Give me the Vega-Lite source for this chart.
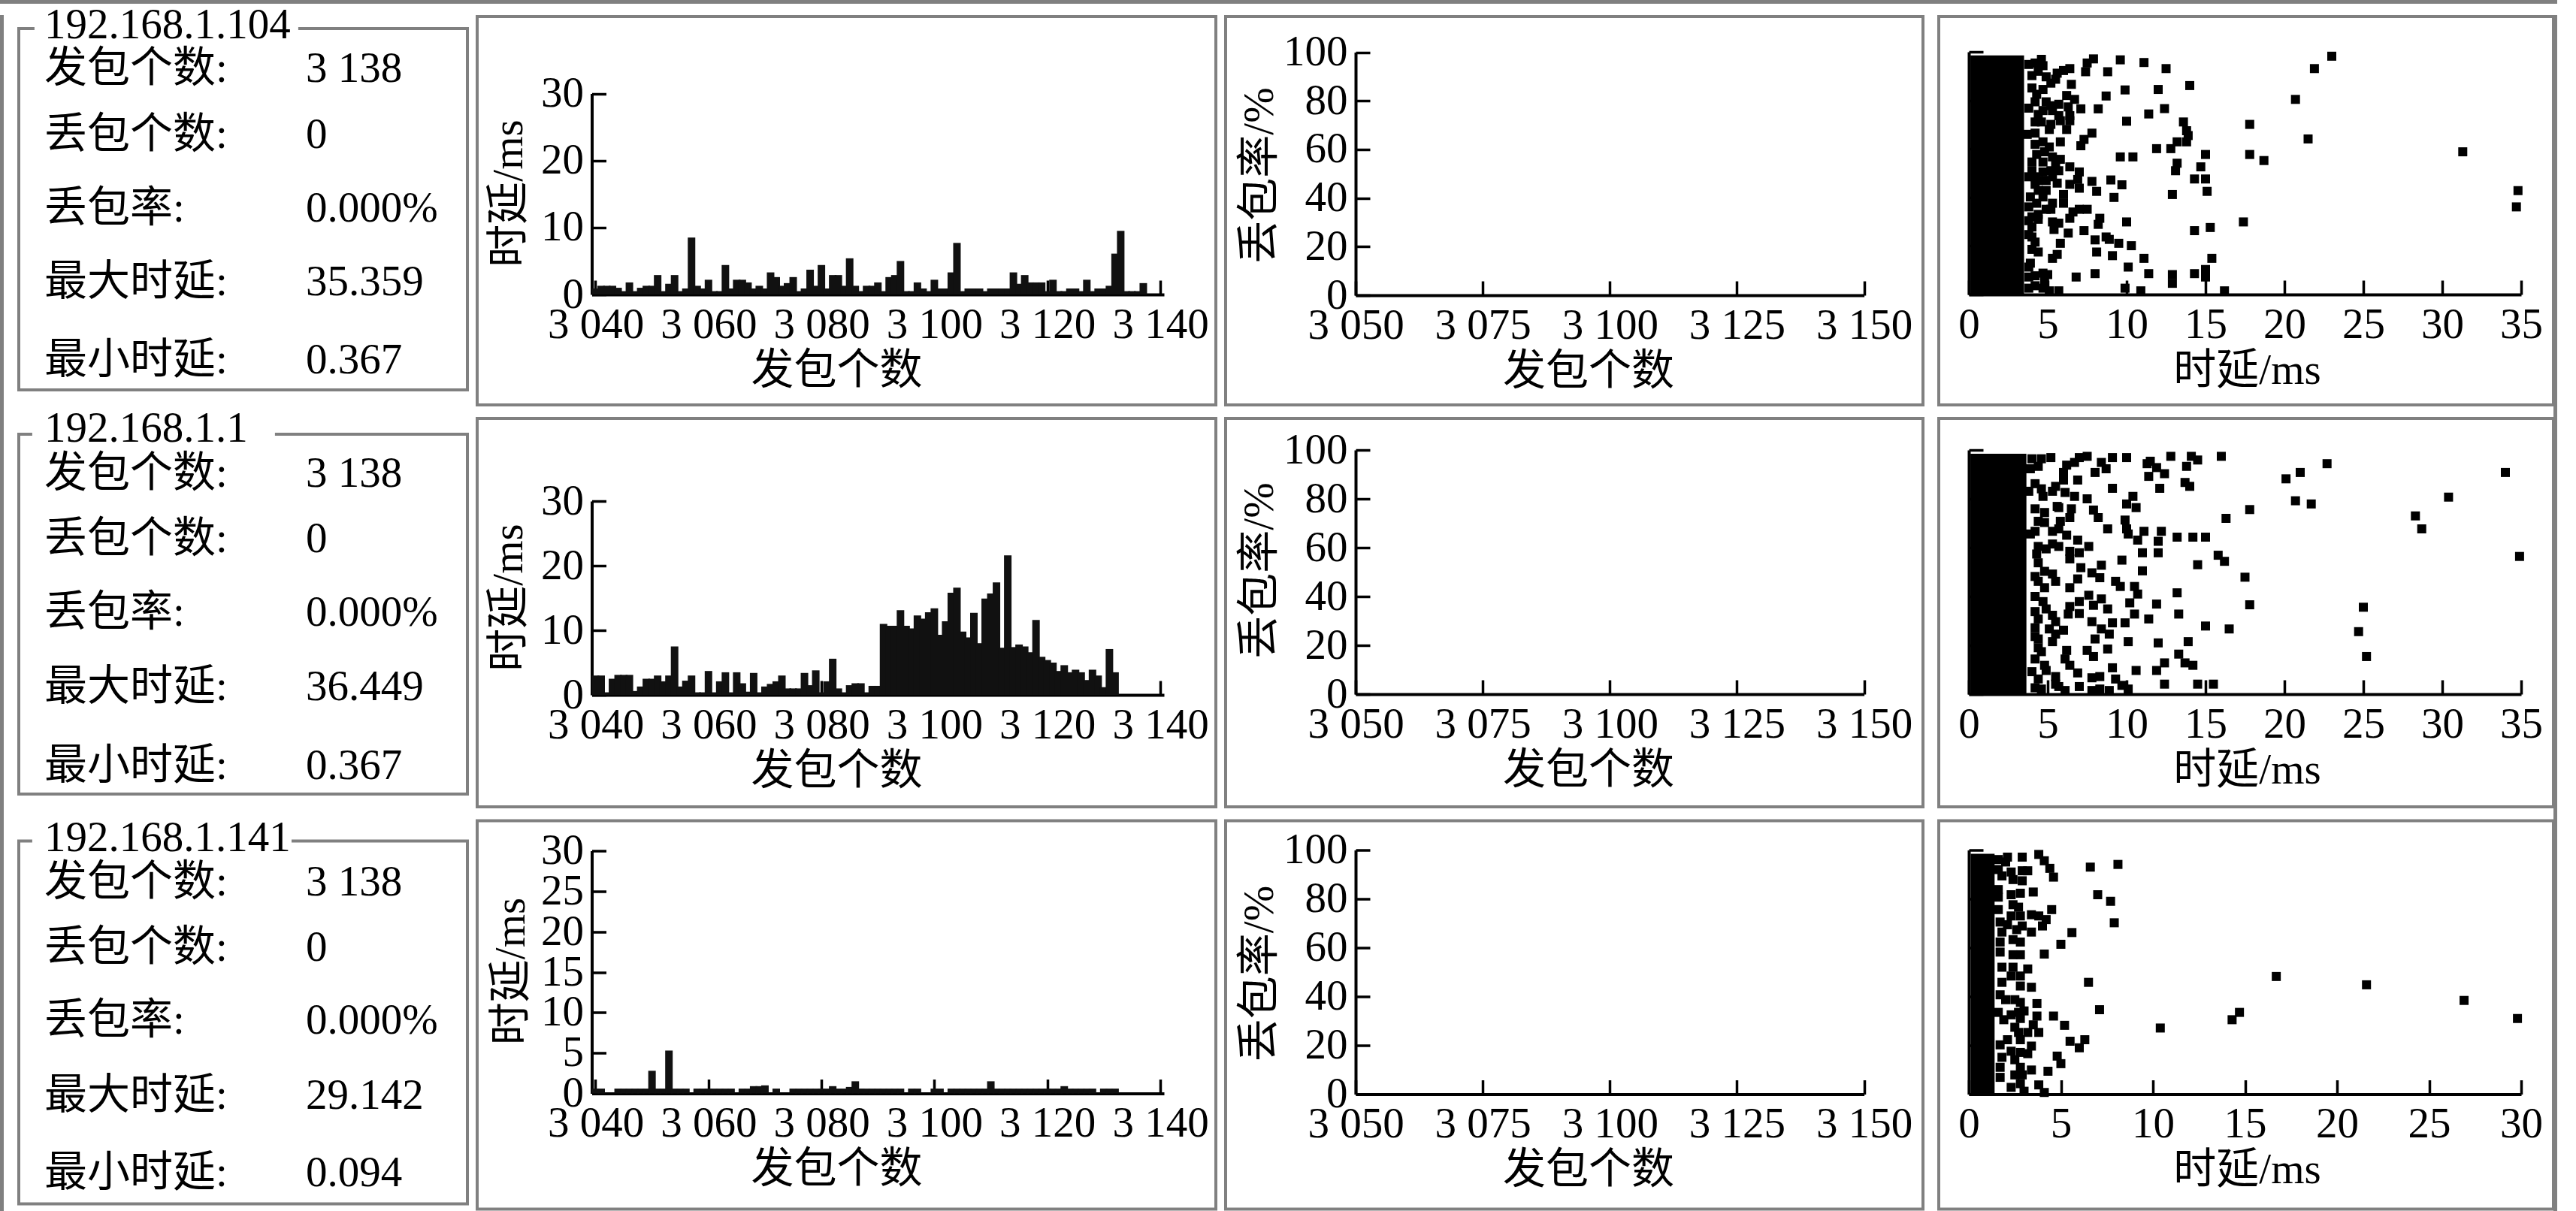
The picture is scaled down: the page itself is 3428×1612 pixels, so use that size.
{"$schema":"https://vega.github.io/schema/vega-lite/v6.json","padding":0,"background":"white","autosize":{"type":"pad"},
"config":{"view":{"stroke":"#808080","strokeWidth":4},"font":"Liberation Serif, Noto Sans CJK SC","axisX":{"labelPadding":31},"axisY":{"labelPadding":30},"axis":{"grid":false,"labelFont":"Liberation Serif, Noto Sans CJK SC","titleFont":"Liberation Serif, Noto Sans CJK SC","labelFontSize":57,"titleFontSize":57,"titleFontWeight":"normal","labelColor":"black","titleColor":"black","domainColor":"black","tickColor":"black","domainWidth":4,"tickWidth":3.5,"tickSize":-19,"labelFlush":false,"labelOverlap":false,"titleBaseline":"middle","titleAlign":"center"}},
"datasets":{
"frame":[{"v":0}],
"info1":[{"column":0,"line":0,"text":"192.168.1.104"},{"column":0,"line":1,"text":"发包个数:"},{"column":0,"line":2,"text":"丢包个数:"},{"column":0,"line":3,"text":"丢包率:"},{"column":0,"line":4,"text":"最大时延:"},{"column":0,"line":5,"text":"最小时延:"},{"column":1,"line":1,"text":" 3 138"},{"column":1,"line":2,"text":"0"},{"column":1,"line":3,"text":"0.000%"},{"column":1,"line":4,"text":"35.359"},{"column":1,"line":5,"text":"0.367"}],
"info2":[{"column":0,"line":0,"text":"192.168.1.1"},{"column":0,"line":1,"text":"发包个数:"},{"column":0,"line":2,"text":"丢包个数:"},{"column":0,"line":3,"text":"丢包率:"},{"column":0,"line":4,"text":"最大时延:"},{"column":0,"line":5,"text":"最小时延:"},{"column":1,"line":1,"text":"3 138"},{"column":1,"line":2,"text":"0"},{"column":1,"line":3,"text":"0.000%"},{"column":1,"line":4,"text":"36.449"},{"column":1,"line":5,"text":"0.367"}],
"info3":[{"column":0,"line":0,"text":"192.168.1.141"},{"column":0,"line":1,"text":"发包个数:"},{"column":0,"line":2,"text":"丢包个数:"},{"column":0,"line":3,"text":"丢包率:"},{"column":0,"line":4,"text":"最大时延:"},{"column":0,"line":5,"text":"最小时延:"},{"column":1,"line":1,"text":"3 138"},{"column":1,"line":2,"text":"0"},{"column":1,"line":3,"text":"0.000%"},{"column":1,"line":4,"text":"29.142"},{"column":1,"line":5,"text":"0.094"}],
"bars1":[{"p":3040,"d":0.9},{"p":3041,"d":1.3},{"p":3042,"d":1.3},{"p":3043,"d":1.3},{"p":3044,"d":1},{"p":3045,"d":0.5},{"p":3046,"d":1.8},{"p":3047,"d":0.5},{"p":3048,"d":1},{"p":3049,"d":1.3},{"p":3050,"d":1.3},{"p":3051,"d":2.9},{"p":3052,"d":0.5},{"p":3053,"d":1.6},{"p":3054,"d":2.9},{"p":3055,"d":0.5},{"p":3056,"d":0.9},{"p":3057,"d":8.5},{"p":3058,"d":1.3},{"p":3059,"d":0.9},{"p":3060,"d":2.2},{"p":3061,"d":0.5},{"p":3062,"d":0.5},{"p":3063,"d":4.4},{"p":3064,"d":0.9},{"p":3065,"d":2.2},{"p":3066,"d":2.2},{"p":3067,"d":1.8},{"p":3068,"d":0.9},{"p":3069,"d":1.3},{"p":3070,"d":0.9},{"p":3071,"d":3.3},{"p":3072,"d":2.6},{"p":3073,"d":1.3},{"p":3074,"d":1.7},{"p":3075,"d":2.6},{"p":3076,"d":0.5},{"p":3077,"d":0.9},{"p":3078,"d":3.7},{"p":3079,"d":1.3},{"p":3080,"d":4.4},{"p":3081,"d":0.9},{"p":3082,"d":2.9},{"p":3083,"d":2.9},{"p":3084,"d":1.3},{"p":3085,"d":5.4},{"p":3086,"d":1.3},{"p":3087,"d":0.5},{"p":3088,"d":1.3},{"p":3089,"d":1.3},{"p":3090,"d":1.8},{"p":3091,"d":0.5},{"p":3092,"d":2.6},{"p":3093,"d":2.9},{"p":3094,"d":5},{"p":3095,"d":0.5},{"p":3096,"d":0.5},{"p":3097,"d":1.8},{"p":3098,"d":0.9},{"p":3099,"d":0.5},{"p":3100,"d":2.2},{"p":3101,"d":0.9},{"p":3102,"d":0.9},{"p":3103,"d":3.3},{"p":3104,"d":7.7},{"p":3105,"d":0.5},{"p":3106,"d":0.9},{"p":3107,"d":0.9},{"p":3108,"d":0.9},{"p":3109,"d":0.5},{"p":3110,"d":0.9},{"p":3111,"d":0.9},{"p":3112,"d":0.9},{"p":3113,"d":0.9},{"p":3114,"d":3.3},{"p":3115,"d":1.6},{"p":3116,"d":2.9},{"p":3117,"d":1.8},{"p":3118,"d":1.8},{"p":3119,"d":1.8},{"p":3120,"d":0.5},{"p":3121,"d":2.2},{"p":3122,"d":0.5},{"p":3123,"d":0.5},{"p":3124,"d":0.9},{"p":3125,"d":0.9},{"p":3126,"d":0.5},{"p":3127,"d":2.2},{"p":3128,"d":0.5},{"p":3129,"d":0.9},{"p":3130,"d":0.9},{"p":3131,"d":1.3},{"p":3132,"d":6.1},{"p":3133,"d":9.5},{"p":3134,"d":0.5},{"p":3135,"d":0.5},{"p":3136,"d":0.5},{"p":3137,"d":1.7}],
"bars2":[{"p":3040,"d":3},{"p":3041,"d":3},{"p":3042,"d":0.4},{"p":3043,"d":2.5},{"p":3044,"d":3.1},{"p":3045,"d":3.1},{"p":3046,"d":3.1},{"p":3047,"d":0.6},{"p":3048,"d":1.3},{"p":3049,"d":2.5},{"p":3050,"d":2.5},{"p":3051,"d":3},{"p":3052,"d":2.1},{"p":3053,"d":3},{"p":3054,"d":7.5},{"p":3055,"d":1.3},{"p":3056,"d":2.2},{"p":3057,"d":3},{"p":3058,"d":0.4},{"p":3059,"d":0.4},{"p":3060,"d":3.7},{"p":3061,"d":0.4},{"p":3062,"d":2.1},{"p":3063,"d":3.5},{"p":3064,"d":0.4},{"p":3065,"d":3.5},{"p":3066,"d":1.8},{"p":3067,"d":0.5},{"p":3068,"d":3.4},{"p":3069,"d":0.4},{"p":3070,"d":1.3},{"p":3071,"d":1.7},{"p":3072,"d":2.1},{"p":3073,"d":3},{"p":3074,"d":1},{"p":3075,"d":1},{"p":3076,"d":1},{"p":3077,"d":3.4},{"p":3078,"d":1.5},{"p":3079,"d":3.8},{"p":3080,"d":0.4},{"p":3081,"d":2.1},{"p":3082,"d":5.6},{"p":3083,"d":1},{"p":3084,"d":0.4},{"p":3085,"d":1.5},{"p":3086,"d":1.8},{"p":3087,"d":1.8},{"p":3088,"d":0.4},{"p":3089,"d":1.4},{"p":3090,"d":1.4},{"p":3091,"d":11},{"p":3092,"d":10.7},{"p":3093,"d":10.7},{"p":3094,"d":13.1},{"p":3095,"d":10.7},{"p":3096,"d":10.3},{"p":3097,"d":12.3},{"p":3098,"d":11.8},{"p":3099,"d":12.8},{"p":3100,"d":13.4},{"p":3101,"d":9.3},{"p":3102,"d":11.4},{"p":3103,"d":15.8},{"p":3104,"d":16.6},{"p":3105,"d":9.8},{"p":3106,"d":8.9},{"p":3107,"d":12.7},{"p":3108,"d":8},{"p":3109,"d":14.9},{"p":3110,"d":15.7},{"p":3111,"d":17.4},{"p":3112,"d":7.3},{"p":3113,"d":21.6},{"p":3114,"d":7.4},{"p":3115,"d":7.8},{"p":3116,"d":7.5},{"p":3117,"d":6.6},{"p":3118,"d":11.6},{"p":3119,"d":5.9},{"p":3120,"d":5.4},{"p":3121,"d":5},{"p":3122,"d":3.7},{"p":3123,"d":4.6},{"p":3124,"d":3.5},{"p":3125,"d":3.9},{"p":3126,"d":3.5},{"p":3127,"d":2.3},{"p":3128,"d":3.9},{"p":3129,"d":3},{"p":3130,"d":1.2},{"p":3131,"d":7.1},{"p":3132,"d":3.5}],
"bars3":[{"p":3040,"d":0.6},{"p":3041,"d":0.6},{"p":3044,"d":0.6},{"p":3045,"d":0.6},{"p":3046,"d":0.6},{"p":3047,"d":0.6},{"p":3048,"d":0.6},{"p":3049,"d":0.6},{"p":3050,"d":2.8},{"p":3051,"d":0.6},{"p":3052,"d":0.6},{"p":3053,"d":5.3},{"p":3054,"d":0.6},{"p":3055,"d":0.6},{"p":3056,"d":0.6},{"p":3058,"d":0.6},{"p":3059,"d":0.6},{"p":3060,"d":0.6},{"p":3061,"d":0.6},{"p":3062,"d":0.6},{"p":3063,"d":0.6},{"p":3064,"d":0.6},{"p":3066,"d":0.6},{"p":3067,"d":0.6},{"p":3068,"d":0.9},{"p":3069,"d":0.9},{"p":3070,"d":1},{"p":3072,"d":0.6},{"p":3075,"d":0.6},{"p":3076,"d":0.6},{"p":3077,"d":0.6},{"p":3078,"d":0.6},{"p":3079,"d":0.6},{"p":3080,"d":0.6},{"p":3081,"d":0.6},{"p":3082,"d":0.9},{"p":3083,"d":0.6},{"p":3084,"d":0.6},{"p":3085,"d":0.8},{"p":3086,"d":1.5},{"p":3087,"d":0.6},{"p":3088,"d":0.6},{"p":3089,"d":0.6},{"p":3090,"d":0.6},{"p":3091,"d":0.6},{"p":3092,"d":0.6},{"p":3093,"d":0.6},{"p":3094,"d":0.6},{"p":3096,"d":0.6},{"p":3097,"d":0.6},{"p":3100,"d":0.6},{"p":3101,"d":0.6},{"p":3103,"d":0.6},{"p":3104,"d":0.6},{"p":3105,"d":0.6},{"p":3106,"d":0.6},{"p":3107,"d":0.6},{"p":3108,"d":0.6},{"p":3109,"d":0.6},{"p":3110,"d":1.5},{"p":3111,"d":0.6},{"p":3112,"d":0.6},{"p":3113,"d":0.6},{"p":3114,"d":0.6},{"p":3115,"d":0.6},{"p":3116,"d":0.6},{"p":3117,"d":0.6},{"p":3118,"d":0.6},{"p":3119,"d":0.6},{"p":3120,"d":0.6},{"p":3121,"d":0.6},{"p":3122,"d":0.6},{"p":3123,"d":0.9},{"p":3124,"d":0.6},{"p":3125,"d":0.6},{"p":3126,"d":0.6},{"p":3127,"d":0.6},{"p":3128,"d":0.6},{"p":3130,"d":0.6},{"p":3131,"d":0.6},{"p":3132,"d":0.6}],
"loss":[{"p":3050,"r":0},{"p":3075,"r":0},{"p":3100,"r":0},{"p":3125,"r":0},{"p":3150,"r":0}],
"dots1":[{"d":4.6,"r":96.9},{"d":4.7,"r":94.3},{"d":4.2,"r":95.4},{"d":3.8,"r":94.8},{"d":4,"r":90.2},{"d":4.9,"r":89.7},{"d":5.6,"r":91.2},{"d":5.2,"r":87.1},{"d":4.7,"r":84.5},{"d":4,"r":85.1},{"d":6.4,"r":93.1},{"d":6,"r":92.3},{"d":7.9,"r":97.1},{"d":7.5,"r":95.4},{"d":7.4,"r":91.8},{"d":8.8,"r":91.8},{"d":9.6,"r":96.7},{"d":11.1,"r":95.6},{"d":12.5,"r":93.1},{"d":6.5,"r":86.6},{"d":6.2,"r":82},{"d":6.7,"r":80.4},{"d":12,"r":84.5},{"d":9.9,"r":84.3},{"d":8.7,"r":81.8},{"d":14,"r":86.1},{"d":20.7,"r":80.4},{"d":21.9,"r":93.1},{"d":23,"r":98.2},{"d":5.2,"r":77.8},{"d":5.7,"r":78.4},{"d":5.3,"r":75.8},{"d":6.3,"r":77.3},{"d":7.1,"r":76.5},{"d":8.2,"r":76.5},{"d":3.8,"r":76.8},{"d":4.4,"r":74.2},{"d":6.4,"r":73.7},{"d":11.4,"r":74.4},{"d":12.4,"r":76.6},{"d":10,"r":71.4},{"d":5.8,"r":71.6},{"d":6.4,"r":71.6},{"d":4.6,"r":71.1},{"d":13.6,"r":71.1},{"d":13.8,"r":67.5},{"d":13.9,"r":65.5},{"d":17.8,"r":70.1},{"d":7.8,"r":66.5},{"d":6.2,"r":68},{"d":5.1,"r":68},{"d":4.2,"r":66.5},{"d":3.7,"r":66},{"d":5.8,"r":62.9},{"d":7.3,"r":63.9},{"d":7.1,"r":61.3},{"d":21.5,"r":64.1},{"d":13.2,"r":62.9},{"d":13.8,"r":62.9},{"d":11.9,"r":60.1},{"d":12.8,"r":60.1},{"d":31.3,"r":58.8},{"d":15,"r":57.7},{"d":17.8,"r":57.7},{"d":18.7,"r":55.2},{"d":9.6,"r":56.7},{"d":10.4,"r":56.7},{"d":5.8,"r":55.7},{"d":4.8,"r":58.8},{"d":5.5,"r":53.6},{"d":4,"r":54.6},{"d":13.2,"r":54.1},{"d":13.1,"r":51},{"d":14.7,"r":52.6},{"d":6.4,"r":52.6},{"d":7,"r":50.5},{"d":4.7,"r":50.5},{"d":5.3,"r":48.5},{"d":4.2,"r":48.5},{"d":14.3,"r":47.6},{"d":15,"r":47.6},{"d":9,"r":47.2},{"d":7.8,"r":46.6},{"d":6.9,"r":47.4},{"d":6.4,"r":45.4},{"d":5.6,"r":45.9},{"d":9.7,"r":45.2},{"d":7,"r":43.8},{"d":4.2,"r":45.4},{"d":8.1,"r":42.5},{"d":15.1,"r":42.5},{"d":12.9,"r":41.2},{"d":9.2,"r":40},{"d":6,"r":41.2},{"d":4.7,"r":40.2},{"d":4.3,"r":37.6},{"d":34.8,"r":42.8},{"d":34.7,"r":36.1},{"d":5.3,"r":37.6},{"d":6,"r":37.6},{"d":3.8,"r":36.1},{"d":7,"r":35.1},{"d":7.5,"r":35.1},{"d":4.9,"r":35.1},{"d":4,"r":32},{"d":6.6,"r":34},{"d":8.3,"r":31.4},{"d":6.4,"r":31.4},{"d":5.3,"r":29.9},{"d":5.7,"r":29.4},{"d":4,"r":27.8},{"d":10,"r":29.9},{"d":8.2,"r":28.9},{"d":17.4,"r":29.9},{"d":15.3,"r":27.6},{"d":14.3,"r":26.3},{"d":7.3,"r":26.3},{"d":5.4,"r":26.8},{"d":6.3,"r":25.3},{"d":8.7,"r":23.7},{"d":8,"r":22.5},{"d":4,"r":23.7},{"d":9.5,"r":21.1},{"d":8.9,"r":22.7},{"d":5.8,"r":21.1},{"d":10.3,"r":20.1},{"d":4,"r":18.6},{"d":4.4,"r":17.5},{"d":8.1,"r":17.5},{"d":5.6,"r":16.5},{"d":9.1,"r":16},{"d":5.3,"r":14.9},{"d":11.1,"r":14.9},{"d":15.4,"r":14.9},{"d":3.9,"r":12.9},{"d":10.1,"r":11.3},{"d":15,"r":10.3},{"d":4.7,"r":8.8},{"d":4.2,"r":7.7},{"d":5,"r":8.2},{"d":6.8,"r":7.2},{"d":8,"r":8.6},{"d":11.4,"r":8.6},{"d":12.9,"r":8.2},{"d":14.3,"r":8.6},{"d":15,"r":7.2},{"d":4.8,"r":6.2},{"d":12.9,"r":4.6},{"d":4.2,"r":3.6},{"d":9.9,"r":2.6},{"d":3.8,"r":2.6},{"d":4.7,"r":2.6},{"d":10.9,"r":1.5},{"d":5.7,"r":1.5},{"d":16.2,"r":1.5},{"d":5.1,"r":1.5},{"d":4.4,"r":92},{"d":5.5,"r":88.7},{"d":4.3,"r":82.5},{"d":4.2,"r":79.4},{"d":4.9,"r":79.4},{"d":4.7,"r":75.8},{"d":5.7,"r":73.7},{"d":4.2,"r":71.1},{"d":5.2,"r":70.1},{"d":4.2,"r":61.9},{"d":4.7,"r":62.9},{"d":5.1,"r":60.8},{"d":4.3,"r":57.7},{"d":5.3,"r":56.7},{"d":4.7,"r":54.6},{"d":4,"r":51},{"d":5.2,"r":51},{"d":5.7,"r":51},{"d":4.4,"r":47},{"d":4.9,"r":47},{"d":3.8,"r":48.5},{"d":4.4,"r":42.9},{"d":4.9,"r":42.9},{"d":3.9,"r":40.2},{"d":5.2,"r":35.1},{"d":4.4,"r":33},{"d":3.8,"r":30.4},{"d":4.4,"r":31},{"d":3.8,"r":24.7},{"d":4.2,"r":21.6},{"d":3.8,"r":11.3},{"d":3.8,"r":7.2}],
"dots2":[{"d":4,"r":96.4},{"d":3.9,"r":92.3},{"d":5.2,"r":96.9},{"d":4.6,"r":96.4},{"d":7,"r":96.9},{"d":7.5,"r":97.4},{"d":6.7,"r":94.9},{"d":9.1,"r":96.9},{"d":8.4,"r":94.9},{"d":10,"r":96.9},{"d":8.7,"r":92.3},{"d":11.5,"r":95.4},{"d":12.8,"r":97.4},{"d":14.1,"r":97.4},{"d":14.5,"r":95.9},{"d":16,"r":97.4},{"d":13.8,"r":93.3},{"d":11.9,"r":92.8},{"d":11.3,"r":94.4},{"d":12.4,"r":90.3},{"d":11.4,"r":89.2},{"d":8,"r":90.8},{"d":6.2,"r":93.8},{"d":6,"r":90.8},{"d":6.9,"r":87.7},{"d":6,"r":87.7},{"d":22.7,"r":94.4},{"d":21,"r":90.8},{"d":20.1,"r":88.2},{"d":34,"r":90.8},{"d":13.7,"r":86.7},{"d":14,"r":85.1},{"d":12.1,"r":84.3},{"d":9.1,"r":84.3},{"d":5.3,"r":83.1},{"d":3.8,"r":83.1},{"d":4.7,"r":81},{"d":6.1,"r":82.6},{"d":6.7,"r":81},{"d":7.5,"r":80},{"d":10.4,"r":81},{"d":10,"r":77.9},{"d":10.6,"r":76.4},{"d":20.7,"r":79.2},{"d":21.7,"r":77.9},{"d":30.4,"r":80.7},{"d":17.8,"r":75.6},{"d":28.3,"r":73},{"d":16.3,"r":72},{"d":28.7,"r":67.7},{"d":4.2,"r":75.9},{"d":4.8,"r":74.4},{"d":5.7,"r":76.4},{"d":6.5,"r":75.9},{"d":7.9,"r":75.4},{"d":8.2,"r":72.3},{"d":4.8,"r":70.3},{"d":5.8,"r":70.8},{"d":6.4,"r":72.3},{"d":9.9,"r":71.3},{"d":10,"r":67.7},{"d":8.8,"r":67.7},{"d":11.1,"r":66.7},{"d":10.1,"r":65.6},{"d":12.2,"r":66.7},{"d":13.2,"r":64.3},{"d":14.2,"r":64.3},{"d":15,"r":64.3},{"d":10.7,"r":63.1},{"d":12,"r":62.6},{"d":5.3,"r":66.7},{"d":3.9,"r":65.6},{"d":6.2,"r":65.1},{"d":6.9,"r":63.1},{"d":7.6,"r":60.5},{"d":5.3,"r":61.5},{"d":4.9,"r":59.5},{"d":6.4,"r":58.5},{"d":7,"r":57.9},{"d":11,"r":57.9},{"d":12,"r":57.9},{"d":34.9,"r":56.4},{"d":15.8,"r":56.9},{"d":16.2,"r":54.4},{"d":9.7,"r":54.9},{"d":14.5,"r":53},{"d":6.4,"r":55.4},{"d":4.4,"r":53.8},{"d":7.1,"r":51.8},{"d":8.4,"r":52.8},{"d":7.8,"r":49.7},{"d":8.3,"r":47.7},{"d":11,"r":50.5},{"d":5.3,"r":49.2},{"d":4.2,"r":48.2},{"d":6.9,"r":47.2},{"d":6.4,"r":43.6},{"d":9.3,"r":46.2},{"d":9.6,"r":44.1},{"d":4.8,"r":43.6},{"d":17.5,"r":47.9},{"d":13.2,"r":41.5},{"d":10.5,"r":44.1},{"d":10.7,"r":41},{"d":7.6,"r":40.5},{"d":7,"r":37.9},{"d":8.4,"r":39},{"d":7.9,"r":36.4},{"d":10.2,"r":37.4},{"d":8.8,"r":34.9},{"d":11.9,"r":36.9},{"d":17.8,"r":36.6},{"d":25,"r":35.6},{"d":6.4,"r":35.9},{"d":7,"r":33},{"d":6.3,"r":32.8},{"d":4.9,"r":34.9},{"d":5.3,"r":32.3},{"d":13.3,"r":32.8},{"d":11.4,"r":30.8},{"d":10.5,"r":32.8},{"d":9.1,"r":29.2},{"d":9.9,"r":29.2},{"d":7.8,"r":29.7},{"d":8.4,"r":26.7},{"d":5.5,"r":29.7},{"d":4.2,"r":27.2},{"d":5.1,"r":26.7},{"d":6,"r":26.2},{"d":15,"r":27.9},{"d":16.5,"r":26.7},{"d":24.7,"r":25.6},{"d":8.9,"r":24.6},{"d":10.1,"r":21.5},{"d":8,"r":22.6},{"d":5.3,"r":21.5},{"d":4.4,"r":19},{"d":12,"r":21},{"d":13.9,"r":21.5},{"d":8.8,"r":18.5},{"d":7.5,"r":17.9},{"d":7.9,"r":15.4},{"d":6.2,"r":17.9},{"d":6.1,"r":14.4},{"d":13.3,"r":16.4},{"d":25.2,"r":15.4},{"d":13.7,"r":12.8},{"d":14.2,"r":11.8},{"d":12.4,"r":12.8},{"d":11.9,"r":9.7},{"d":4.8,"r":11.8},{"d":6.4,"r":11.8},{"d":6.9,"r":8.7},{"d":10.6,"r":9.7},{"d":9.1,"r":10.8},{"d":7.8,"r":6.7},{"d":8.3,"r":7.2},{"d":4.9,"r":9.7},{"d":9.3,"r":6.2},{"d":4.4,"r":6.2},{"d":9.7,"r":3.6},{"d":12.4,"r":4.1},{"d":14.5,"r":4.1},{"d":15.5,"r":4.1},{"d":5.5,"r":4.1},{"d":7,"r":3.1},{"d":6.1,"r":1.5},{"d":7.8,"r":1.5},{"d":10.1,"r":2.1},{"d":4.2,"r":2.6},{"d":8.9,"r":1.5},{"d":4.6,"r":2.1},{"d":4.4,"r":93.3},{"d":4.2,"r":86.2},{"d":5.5,"r":85.1},{"d":4.6,"r":84.1},{"d":5.6,"r":76.9},{"d":4.4,"r":70.8},{"d":4.2,"r":66.7},{"d":5.7,"r":67.7},{"d":4.4,"r":60.5},{"d":5.7,"r":60.5},{"d":4.3,"r":57.4},{"d":4.8,"r":50.3},{"d":4.4,"r":46.2},{"d":5.5,"r":46.2},{"d":4.2,"r":40},{"d":4.7,"r":37.9},{"d":4.2,"r":33.8},{"d":4.4,"r":30.8},{"d":4.2,"r":23.6},{"d":5.5,"r":24.6},{"d":4.4,"r":22.6},{"d":4.2,"r":14.4},{"d":4,"r":9.2},{"d":4.6,"r":17.4},{"d":5.7,"r":3.1},{"d":5.5,"r":7.2},{"d":8.3,"r":2.1}],
"dots3":[{"d":1.6,"r":96.1},{"d":2.1,"r":97.1},{"d":2.9,"r":97.1},{"d":3.8,"r":98.2},{"d":4.1,"r":95.6},{"d":4.4,"r":92.5},{"d":4.6,"r":88.9},{"d":6.6,"r":93},{"d":8.1,"r":94.1},{"d":2.3,"r":91},{"d":2.9,"r":91.5},{"d":3.2,"r":91.5},{"d":1.8,"r":89.4},{"d":2.4,"r":87.9},{"d":2.9,"r":87.4},{"d":3.5,"r":82.8},{"d":2.8,"r":82.3},{"d":2.3,"r":81.7},{"d":1.6,"r":83.8},{"d":7,"r":81.7},{"d":7.7,"r":79},{"d":2.4,"r":77.6},{"d":4.5,"r":75.6},{"d":3.8,"r":73},{"d":4.2,"r":71.5},{"d":4,"r":68.9},{"d":2.3,"r":73},{"d":2.8,"r":73},{"d":7.9,"r":70.2},{"d":2.1,"r":69.4},{"d":2.9,"r":68.9},{"d":3.4,"r":66.4},{"d":5.6,"r":66.2},{"d":1.8,"r":66.4},{"d":2.4,"r":63.3},{"d":1.7,"r":62.3},{"d":5,"r":61.4},{"d":2.8,"r":62.3},{"d":4.1,"r":57.4},{"d":2.4,"r":57.1},{"d":2.8,"r":57.1},{"d":2.4,"r":52},{"d":3.2,"r":51.3},{"d":2.3,"r":48.4},{"d":2.8,"r":48.4},{"d":16.7,"r":48.2},{"d":21.6,"r":44.8},{"d":6.5,"r":45.8},{"d":3.4,"r":43.8},{"d":2.8,"r":44.3},{"d":2,"r":38.7},{"d":2.8,"r":37.6},{"d":3.7,"r":37.1},{"d":26.9,"r":38.4},{"d":1.6,"r":33.5},{"d":3,"r":34.1},{"d":7.1,"r":34.6},{"d":3.7,"r":32},{"d":4.6,"r":32},{"d":14.7,"r":33.5},{"d":14.3,"r":30.5},{"d":2.8,"r":31},{"d":3.5,"r":28.4},{"d":5.2,"r":28.2},{"d":2.7,"r":25.3},{"d":3.8,"r":25.3},{"d":10.4,"r":27.1},{"d":29.8,"r":31},{"d":2.1,"r":22.3},{"d":2.8,"r":22.3},{"d":5.5,"r":21.7},{"d":6.3,"r":22.3},{"d":6,"r":19},{"d":3.4,"r":19.7},{"d":3.2,"r":16.6},{"d":2.3,"r":17.6},{"d":4.8,"r":15.6},{"d":5,"r":12.5},{"d":1.7,"r":11},{"d":2.5,"r":14.1},{"d":2.8,"r":11},{"d":4.3,"r":9.4},{"d":2.9,"r":7.9},{"d":2.3,"r":2.8},{"d":2.8,"r":4.3},{"d":3.8,"r":3.8},{"d":3,"r":1.2},{"d":4.1,"r":0.7},{"d":1.6,"r":92},{"d":1.6,"r":80.7},{"d":1.6,"r":75.6},{"d":1.7,"r":70.5},{"d":1.7,"r":58.2},{"d":1.8,"r":52},{"d":1.8,"r":45.8},{"d":1.7,"r":40.7},{"d":1.9,"r":30.5},{"d":1.7,"r":20.2},{"d":1.8,"r":15.1},{"d":1.7,"r":6.9},{"d":2.3,"r":32.5},{"d":2.5,"r":38.7},{"d":2.7,"r":33.5},{"d":2.5,"r":27.4},{"d":2.8,"r":17.1},{"d":2.5,"r":7.9},{"d":2.6,"r":67.4},{"d":2.7,"r":76.6},{"d":2,"r":95.1},{"d":3.4,"r":73.5},{"d":3.2,"r":25.3},{"d":3.4,"r":9.9}]
},
"spacing":-4,
"vconcat":[
{"spacing":0,"vconcat":[
{"width":3399,"height":1,"data":{"name":"frame"},"mark":{"type":"rule","opacity":0},"encoding":{"x":{"field":"v","type":"quantitative","axis":null},"y":{"field":"v","type":"quantitative","axis":null}}},
{"spacing":-4,"hconcat":[
{"spacing":18,"hconcat":[
{"width":1,"height":1606,"data":{"name":"frame"},"mark":{"type":"rule","opacity":0},"encoding":{"x":{"field":"v","type":"quantitative","axis":null},"y":{"field":"v","type":"quantitative","axis":null}}},
{"spacing":1,"vconcat":[
{"spacing":17,"hconcat":[{"spacing":13,"bounds":"flush","hconcat":[
{"width":597,"height":517,"view":{"stroke":null},"resolve":{"scale":{"x":"independent","y":"independent"}},"layer":[
{"data":{"values":[{"from":0,"to":1}]},"mark":{"type":"rect","filled":false,"stroke":"#808080","strokeWidth":4},"encoding":{"x":{"field":"from","type":"quantitative","axis":null,"scale":{"domain":[0,1],"range":[0,597]}},"x2":{"field":"to"},"y":{"field":"from","type":"quantitative","axis":null,"scale":{"domain":[0,1],"range":[497,16]}},"y2":{"field":"to"}}},
{"data":{"values":[{"from":0.035,"to":0.623,"level":1}]},"mark":{"type":"rule","color":"white","strokeWidth":9},"encoding":{"x":{"field":"from","type":"quantitative","axis":null,"scale":{"domain":[0,1],"range":[0,597]}},"x2":{"field":"to"},"y":{"field":"level","type":"quantitative","axis":null,"scale":{"domain":[0,1],"range":[497,16]}}}},
{"data":{"name":"info1"},"mark":{"type":"text","align":"left","baseline":"middle","fontSize":57,"font":"Liberation Serif, Noto Sans CJK SC","color":"black"},"encoding":{"x":{"field":"column","type":"quantitative","axis":null,"scale":{"domain":[0,1],"range":[34,382]}},"y":{"field":"line","type":"quantitative","axis":null,"scale":{"domain":[0,1,2,3,4,5],"range":[12,70,158,256,354,458]}},"text":{"field":"text"}}}]},
{"width":983,"height":517,"data":{"name":"bars1"},"mark":{"type":"bar","size":10,"color":"#111111"},"encoding":{"x":{"field":"p","type":"quantitative","scale":{"domain":[3040,3140],"range":[152.5,914],"nice":false,"zero":false},"axis":{"title":"发包个数","offset":-147,"values":[3040,3060,3080,3100,3120,3140],"format":",d","labelExpr":"replace(datum.label,',',' ')","titleX":478,"titleY":101}},"y":{"field":"d","type":"quantitative","scale":{"domain":[0,30],"range":[370,102.5],"nice":false},"axis":{"title":"时延/ms","offset":-152.5,"values":[0,10,20,30],"titleX":-110,"titleY":235}}}},
{"width":928,"height":517,"data":{"name":"loss"},"mark":{"type":"line","color":"black"},"encoding":{"x":{"field":"p","type":"quantitative","scale":{"domain":[3050,3150],"range":[173,849.6],"nice":false,"zero":false},"axis":{"title":"发包个数","offset":-146,"values":[3050,3075,3100,3125,3150],"format":",d","labelExpr":"replace(datum.label,',',' ')","titleX":482.5,"titleY":101}},"y":{"field":"r","type":"quantitative","scale":{"domain":[0,100],"range":[371,47.6],"nice":false},"axis":{"title":"丢包率/%","offset":-173,"values":[0,20,40,60,80,100],"titleX":-128,"titleY":211}}}}]},
{"width":818,"height":517,"layer":[
{"data":{"values":[{"d0":0.1,"d1":3.5,"r0":0,"r1":98.5}]},"mark":{"type":"rect","color":"black"},"encoding":{"x":{"field":"d0","type":"quantitative"},"x2":{"field":"d1"},"y":{"field":"r0","type":"quantitative"},"y2":{"field":"r1"}}},
{"data":{"name":"dots1"},"mark":{"type":"point","shape":"square","filled":true,"size":144,"color":"black","opacity":1},"encoding":{"x":{"field":"d","type":"quantitative","scale":{"domain":[0,35],"range":[40,775],"nice":false},"axis":{"title":"时延/ms","offset":-147,"values":[0,5,10,15,20,25,30,35],"titleX":410,"titleY":101}},"y":{"field":"r","type":"quantitative","scale":{"domain":[0,100],"range":[370,47],"nice":false},"axis":{"title":null,"offset":-40,"labels":false,"values":[0,20,40,60,80,100]}}}}]}]},
{"spacing":10.5,"vconcat":[
{"spacing":17,"hconcat":[{"spacing":13,"bounds":"flush","hconcat":[
{"width":597,"height":517,"view":{"stroke":null},"resolve":{"scale":{"x":"independent","y":"independent"}},"layer":[
{"data":{"values":[{"from":0,"to":1}]},"mark":{"type":"rect","filled":false,"stroke":"#808080","strokeWidth":4},"encoding":{"x":{"field":"from","type":"quantitative","axis":null,"scale":{"domain":[0,1],"range":[0,597]}},"x2":{"field":"to"},"y":{"field":"from","type":"quantitative","axis":null,"scale":{"domain":[0,1],"range":[500,21]}},"y2":{"field":"to"}}},
{"data":{"values":[{"from":0.03,"to":0.571,"level":1}]},"mark":{"type":"rule","color":"white","strokeWidth":9},"encoding":{"x":{"field":"from","type":"quantitative","axis":null,"scale":{"domain":[0,1],"range":[0,597]}},"x2":{"field":"to"},"y":{"field":"level","type":"quantitative","axis":null,"scale":{"domain":[0,1],"range":[500,21]}}}},
{"data":{"name":"info2"},"mark":{"type":"text","align":"left","baseline":"middle","fontSize":57,"font":"Liberation Serif, Noto Sans CJK SC","color":"black"},"encoding":{"x":{"field":"column","type":"quantitative","axis":null,"scale":{"domain":[0,1],"range":[34,382]}},"y":{"field":"line","type":"quantitative","axis":null,"scale":{"domain":[0,1,2,3,4,5],"range":[14,74,161,259,358,463]}},"text":{"field":"text"}}}]},
{"width":983,"height":517,"data":{"name":"bars2"},"mark":{"type":"bar","size":10,"color":"#111111"},"encoding":{"x":{"field":"p","type":"quantitative","scale":{"domain":[3040,3140],"range":[152.5,914],"nice":false,"zero":false},"axis":{"title":"发包个数","offset":-149,"values":[3040,3060,3080,3100,3120,3140],"format":",d","labelExpr":"replace(datum.label,',',' ')","titleX":478,"titleY":101}},"y":{"field":"d","type":"quantitative","scale":{"domain":[0,30],"range":[368,110],"nice":false},"axis":{"title":"时延/ms","offset":-152.5,"values":[0,10,20,30],"titleX":-110,"titleY":238}}}},
{"width":928,"height":517,"data":{"name":"loss"},"mark":{"type":"line","color":"black"},"encoding":{"x":{"field":"p","type":"quantitative","scale":{"domain":[3050,3150],"range":[173,849.6],"nice":false,"zero":false},"axis":{"title":"发包个数","offset":-150,"values":[3050,3075,3100,3125,3150],"format":",d","labelExpr":"replace(datum.label,',',' ')","titleX":482.5,"titleY":101}},"y":{"field":"r","type":"quantitative","scale":{"domain":[0,100],"range":[367,42],"nice":false},"axis":{"title":"丢包率/%","offset":-173,"values":[0,20,40,60,80,100],"titleX":-128,"titleY":202}}}}]},
{"width":818,"height":517,"layer":[
{"data":{"values":[{"d0":0.1,"d1":3.65,"r0":0,"r1":98.5}]},"mark":{"type":"rect","color":"black"},"encoding":{"x":{"field":"d0","type":"quantitative"},"x2":{"field":"d1"},"y":{"field":"r0","type":"quantitative"},"y2":{"field":"r1"}}},
{"data":{"name":"dots2"},"mark":{"type":"point","shape":"square","filled":true,"size":144,"color":"black","opacity":1},"encoding":{"x":{"field":"d","type":"quantitative","scale":{"domain":[0,35],"range":[40,775],"nice":false},"axis":{"title":"时延/ms","offset":-150,"values":[0,5,10,15,20,25,30,35],"titleX":410,"titleY":101}},"y":{"field":"r","type":"quantitative","scale":{"domain":[0,100],"range":[367,42],"nice":false},"axis":{"title":null,"offset":-40,"labels":false,"values":[0,20,40,60,80,100]}}}}]}]},
{"spacing":17,"hconcat":[{"spacing":13,"bounds":"flush","hconcat":[
{"width":597,"height":517,"view":{"stroke":null},"resolve":{"scale":{"x":"independent","y":"independent"}},"layer":[
{"data":{"values":[{"from":0,"to":1}]},"mark":{"type":"rect","filled":false,"stroke":"#808080","strokeWidth":4},"encoding":{"x":{"field":"from","type":"quantitative","axis":null,"scale":{"domain":[0,1],"range":[0,597]}},"x2":{"field":"to"},"y":{"field":"from","type":"quantitative","axis":null,"scale":{"domain":[0,1],"range":[510,27]}},"y2":{"field":"to"}}},
{"data":{"values":[{"from":0.03,"to":0.608,"level":1}]},"mark":{"type":"rule","color":"white","strokeWidth":9},"encoding":{"x":{"field":"from","type":"quantitative","axis":null,"scale":{"domain":[0,1],"range":[0,597]}},"x2":{"field":"to"},"y":{"field":"level","type":"quantitative","axis":null,"scale":{"domain":[0,1],"range":[510,27]}}}},
{"data":{"name":"info3"},"mark":{"type":"text","align":"left","baseline":"middle","fontSize":57,"font":"Liberation Serif, Noto Sans CJK SC","color":"black"},"encoding":{"x":{"field":"column","type":"quantitative","axis":null,"scale":{"domain":[0,1],"range":[34,382]}},"y":{"field":"line","type":"quantitative","axis":null,"scale":{"domain":[0,1,2,3,4,5],"range":[23,82,169,266,366,469]}},"text":{"field":"text"}}}]},
{"width":983,"height":517,"data":{"name":"bars3"},"mark":{"type":"bar","size":10,"color":"#111111"},"encoding":{"x":{"field":"p","type":"quantitative","scale":{"domain":[3040,3140],"range":[152.5,914],"nice":false,"zero":false},"axis":{"title":"发包个数","offset":-154,"values":[3040,3060,3080,3100,3120,3140],"format":",d","labelExpr":"replace(datum.label,',',' ')","titleX":478,"titleY":101}},"y":{"field":"d","type":"quantitative","scale":{"domain":[0,30],"range":[363,40],"nice":false},"axis":{"title":"时延/ms","offset":-152.5,"values":[0,5,10,15,20,25,30],"titleX":-107,"titleY":200}}}},
{"width":928,"height":517,"data":{"name":"loss"},"mark":{"type":"line","color":"black"},"encoding":{"x":{"field":"p","type":"quantitative","scale":{"domain":[3050,3150],"range":[173,849.6],"nice":false,"zero":false},"axis":{"title":"发包个数","offset":-153,"values":[3050,3075,3100,3125,3150],"format":",d","labelExpr":"replace(datum.label,',',' ')","titleX":482.5,"titleY":101}},"y":{"field":"r","type":"quantitative","scale":{"domain":[0,100],"range":[364,39],"nice":false},"axis":{"title":"丢包率/%","offset":-173,"values":[0,20,40,60,80,100],"titleX":-128,"titleY":203}}}}]},
{"width":818,"height":517,"layer":[
{"data":{"values":[{"d0":0.1,"d1":1.4,"r0":0,"r1":98.5}]},"mark":{"type":"rect","color":"black"},"encoding":{"x":{"field":"d0","type":"quantitative"},"x2":{"field":"d1"},"y":{"field":"r0","type":"quantitative"},"y2":{"field":"r1"}}},
{"data":{"name":"dots3"},"mark":{"type":"point","shape":"square","filled":true,"size":144,"color":"black","opacity":1},"encoding":{"x":{"field":"d","type":"quantitative","scale":{"domain":[0,30],"range":[40,775],"nice":false},"axis":{"title":"时延/ms","offset":-153,"values":[0,5,10,15,20,25,30],"titleX":410,"titleY":101}},"y":{"field":"r","type":"quantitative","scale":{"domain":[0,100],"range":[364,39],"nice":false},"axis":{"title":null,"offset":-40,"labels":false,"values":[0,20,40,60,80,100]}}}}]}]}
]}
]}]},
{"width":1,"height":1606,"data":{"name":"frame"},"mark":{"type":"rule","opacity":0},"encoding":{"x":{"field":"v","type":"quantitative","axis":null},"y":{"field":"v","type":"quantitative","axis":null}}}
]}]},
{"width":3399,"height":1,"data":{"name":"frame"},"mark":{"type":"rule","opacity":0},"encoding":{"x":{"field":"v","type":"quantitative","axis":null},"y":{"field":"v","type":"quantitative","axis":null}}}
]}
